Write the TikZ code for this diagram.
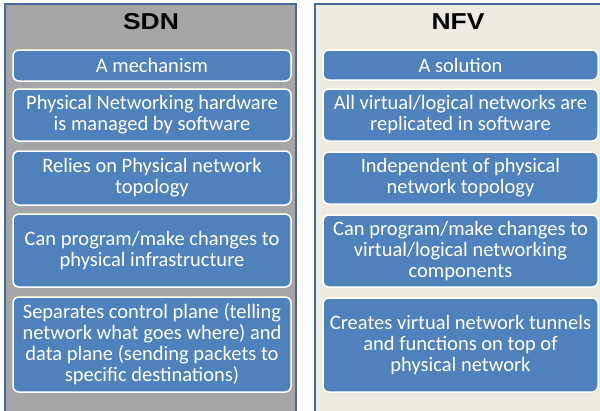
\documentclass[tikz,border=0pt]{standalone}
\usepackage{fontspec}
\setmainfont{Carlito}
\newfontfamily\titlefont{Liberation Sans}
\definecolor{panelgray}{HTML}{A6A6A6}
\definecolor{panelbeige}{HTML}{EEECE1}
\definecolor{panelborder}{HTML}{4A6A9A}
\definecolor{boxblue}{HTML}{4F81BD}
\tikzset{
  x=1pt, y=-1pt,
  itembox/.style={draw=white, line width=1.5pt, fill=boxblue, rounded corners=6pt,
    text=white, align=center, inner sep=0pt,
    font=\fontsize{20.5}{21}\selectfont},
  titletext/.style={font=\titlefont\bfseries\fontsize{23}{24}\selectfont, text=black},
}
\begin{document}
\begin{tikzpicture}
\useasboundingbox (0,0) rectangle (600,410);
\fill[white] (0,0) rectangle (600,410);
% panels
\fill[panelgray] (5,4) rectangle (296,412);
\draw[panelborder, line width=2pt] (5,412) -- (5,4) -- (296,4) -- (296,412);
\fill[panelbeige] (315,4) rectangle (602,412);
\draw[panelborder, line width=2pt] (315,412) -- (315,4) -- (602,4);
% titles
\node[titletext] (sdn) at (151,22) {\scalebox{1.15}[1]{SDN}};
\node[titletext] (nfv) at (458,22) {\scalebox{1.15}[1]{NFV}};
% left boxes
\node[itembox, minimum width=278, minimum height=31] (l1) at (152,65.5) {A mechanism};
\node[itembox, minimum width=278, minimum height=52] (l2) at (152,115) {Physical Networking hardware\\is managed by software};
\node[itembox, minimum width=278, minimum height=54] (l3) at (152,178) {Relies on Physical network\\topology};
\node[itembox, minimum width=278, minimum height=73] (l4) at (152,250.5) {Can program/make changes to\\physical infrastructure};
\node[itembox, minimum width=278, minimum height=95] (l5) at (152,344.5) {Separates control plane (telling\\network what goes where) and\\data plane (sending packets to\\specific destinations)};
% right boxes
\node[itembox, minimum width=275, minimum height=30] (r1) at (460.5,65) {A solution};
\node[itembox, minimum width=275, minimum height=52] (r2) at (460.5,115) {All virtual/logical networks are\\replicated in software};
\node[itembox, minimum width=275, minimum height=52] (r3) at (460.5,178) {Independent of physical\\network topology};
\node[itembox, minimum width=275, minimum height=72] (r4) at (460.5,251) {Can program/make changes to\\virtual/logical networking\\components};
\node[itembox, minimum width=275, minimum height=94] (r5) at (460.5,345) {Creates virtual network tunnels\\and functions on top of\\physical network};
\end{tikzpicture}
\end{document}
